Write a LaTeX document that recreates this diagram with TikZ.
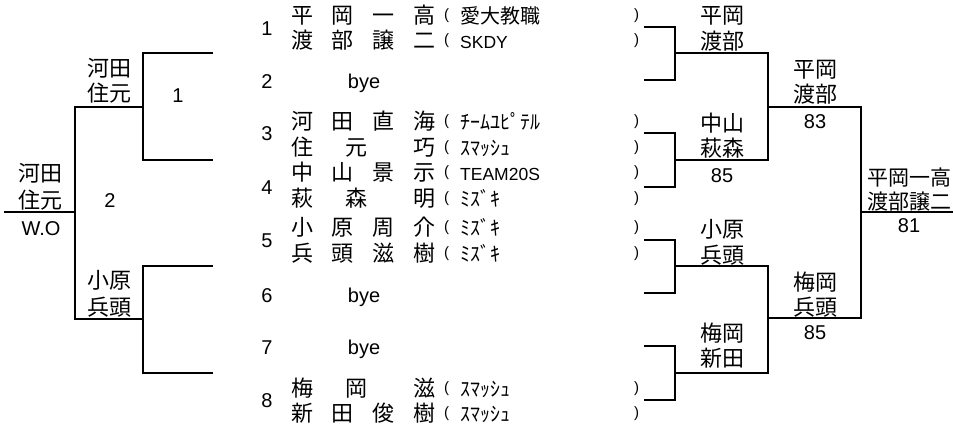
\documentclass[tikz,border=0pt]{standalone}
\usepackage{fontspec}
\setmainfont{Liberation Sans}
\newfontfamily\jpf{Noto Sans CJK JP}
\newcommand{\jpn}{\jpf\fontsize{22}{22}\selectfont}
\newcommand{\tmj}[1]{{\jpf\fontsize{20}{20}\selectfont #1}}
\newcommand{\tml}[1]{{\fontsize{17.5}{17.5}\selectfont #1}}
\newcommand{\lpar}{\raisebox{3.5pt}{\fontsize{15}{15}\selectfont (}}
\newcommand{\rpar}{\raisebox{3.5pt}{\fontsize{15}{15}\selectfont )}}
\newcommand{\cb}[1]{\makebox[22pt]{#1}}
\newcommand{\nmiv}[4]{\cb{#1}\hspace{18.7pt}\cb{#2}\hspace{18.7pt}\cb{#3}\hspace{18.7pt}\cb{#4}}
\newcommand{\nmiii}[3]{\cb{#1}\hspace{32pt}\cb{#2}\hspace{46pt}\cb{#3}}
\newcommand{\entry}[2]{\makebox[153pt][l]{\jpn #1}\makebox[16pt][l]{\lpar}\makebox[174pt][l]{#2}\rpar}
\tikzset{
  br/.style={line width=2pt, line join=miter, line cap=rect},
  lab/.style={font=\jpn, anchor=base, yshift=-8.4pt, inner sep=0pt},
  labf/.style={font=\jpf\fontsize{21}{21}\selectfont, anchor=base, yshift=-8.1pt, inner sep=0pt},
  num/.style={font=\fontsize{20}{20}\selectfont, anchor=base, yshift=-7.2pt, inner sep=0pt},
  entryrow/.style={anchor=base west, yshift=-8.4pt, inner sep=0pt},
}
\begin{document}
\begin{tikzpicture}[x=1pt,y=-1pt]
\useasboundingbox (0,0) rectangle (953,428);

% ---------- left bracket ----------
\draw[br] (212,53) -- (143,53) -- (143,160) -- (212,160);
\draw[br] (212,266) -- (143,266) -- (143,373) -- (212,373);
\draw[br] (143,107) -- (75,107) -- (75,319) -- (143,319);
\draw[br] (75,212) -- (5,212);

\node[lab] (lA1) at (109.5,68) {河田};
\node[lab] (lA2) at (109.5,93) {住元};
\node[num] (lAn) at (178,95) {1};
\node[lab] (lB1) at (109.5,280) {小原};
\node[lab] (lB2) at (109.5,307) {兵頭};
\node[lab] (lC1) at (41,173) {河田};
\node[lab] (lC2) at (41,200) {住元};
\node[num] (lCn) at (41,228) {W.O};
\node[num] (lBn) at (110,200) {2};

% ---------- entries ----------
\node[num] (n1) at (267,28) {1};
\node[num] (n2) at (267,81) {2};
\node[num] (n3) at (267,133) {3};
\node[num] (n4) at (267,187) {4};
\node[num] (n5) at (267,240) {5};
\node[num] (n6) at (267,295) {6};
\node[num] (n7) at (267,347) {7};
\node[num] (n8) at (267,400) {8};
\node[num] (b2) at (364,81) {bye};
\node[num] (b6) at (364,295) {bye};
\node[num] (b7) at (364,347) {bye};

\node[entryrow] (e1a) at (291,15) {\entry{\nmiv{平}{岡}{一}{高}}{\tmj{愛大教職}}};
\node[entryrow] (e1b) at (291,40) {\entry{\nmiv{渡}{部}{譲}{二}}{\tml{SKDY}}};
\node[entryrow] (e3a) at (291,121) {\entry{\nmiv{河}{田}{直}{海}}{\tmj{ﾁｰﾑﾕﾋﾟﾃﾙ}}};
\node[entryrow] (e3b) at (291,147) {\entry{\nmiii{住}{元}{巧}}{\tmj{ｽﾏｯｼｭ}}};
\node[entryrow] (e4a) at (291,172) {\entry{\nmiv{中}{山}{景}{示}}{\tml{TEAM20S}}};
\node[entryrow] (e4b) at (291,198) {\entry{\nmiii{萩}{森}{明}}{\tmj{ﾐｽﾞｷ}}};
\node[entryrow] (e5a) at (291,227) {\entry{\nmiv{小}{原}{周}{介}}{\tmj{ﾐｽﾞｷ}}};
\node[entryrow] (e5b) at (291,253) {\entry{\nmiv{兵}{頭}{滋}{樹}}{\tmj{ﾐｽﾞｷ}}};
\node[entryrow] (e8a) at (291,388) {\entry{\nmiii{梅}{岡}{滋}}{\tmj{ｽﾏｯｼｭ}}};
\node[entryrow] (e8b) at (291,413) {\entry{\nmiv{新}{田}{俊}{樹}}{\tmj{ｽﾏｯｼｭ}}};

% ---------- right bracket ----------
\draw[br] (645,27) -- (675,27) -- (675,80) -- (645,80);
\draw[br] (645,133) -- (675,133) -- (675,187) -- (645,187);
\draw[br] (645,240) -- (675,240) -- (675,293) -- (645,293);
\draw[br] (645,346) -- (675,346) -- (675,400) -- (645,400);
\draw[br] (675,53) -- (768,53) -- (768,160) -- (675,160);
\draw[br] (675,266) -- (768,266) -- (768,373) -- (675,373);
\draw[br] (768,107) -- (861,107) -- (861,318) -- (768,318);
\draw[br] (861,212) -- (953,212);

\node[lab] (r1a) at (722,15) {平岡};
\node[lab] (r1b) at (722,41) {渡部};
\node[lab] (r2a) at (722,123) {中山};
\node[lab] (r2b) at (722,148) {萩森};
\node[num] (r2n) at (722,175) {85};
\node[lab] (r3a) at (722,229) {小原};
\node[lab] (r3b) at (722,255) {兵頭};
\node[lab] (r4a) at (722,333) {梅岡};
\node[lab] (r4b) at (722,358) {新田};
\node[lab] (s1a) at (815,69) {平岡};
\node[lab] (s1b) at (815,94) {渡部};
\node[num] (s1n) at (815,121) {83};
\node[lab] (s2a) at (815,282) {梅岡};
\node[lab] (s2b) at (815,307) {兵頭};
\node[num] (s2n) at (815,332) {85};
\node[labf] (fa) at (909,177) {平岡一高};
\node[labf] (fb) at (909,201) {渡部譲二};
\node[num] (fn) at (909,225) {81};
\end{tikzpicture}
\end{document}
